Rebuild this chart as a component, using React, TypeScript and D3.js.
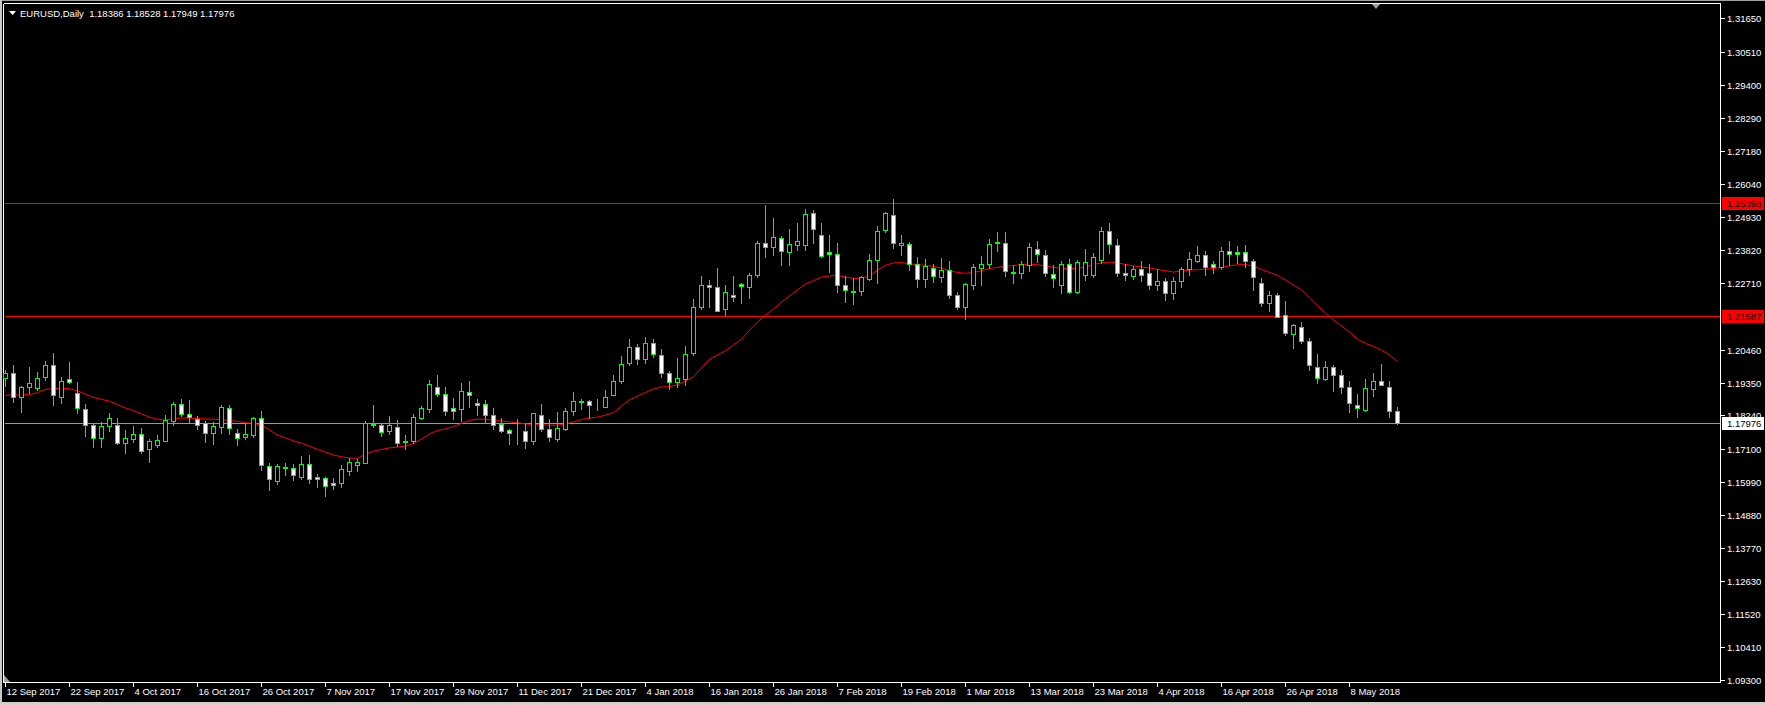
import React from 'react';
import * as d3 from 'd3';

const W = 1765;
const H = 705;

const opens = [
  1.1949, 1.1966, 1.1885, 1.1919, 1.1918, 1.1953, 1.1993, 1.1887, 1.1946, 1.1899,
  1.1845, 1.1792, 1.1747, 1.1788, 1.1792, 1.1732, 1.1743, 1.1761, 1.1709, 1.1725,
  1.1738, 1.1806, 1.1862, 1.1828, 1.1811, 1.1797, 1.1766, 1.1786, 1.1849, 1.1763,
  1.1750, 1.1757, 1.1815, 1.1653, 1.1603, 1.1647, 1.1645, 1.1617, 1.1660, 1.1615,
  1.1611, 1.1597, 1.1594, 1.1637, 1.1655, 1.1664, 1.1795, 1.1792, 1.1770, 1.1784,
  1.1736, 1.1738, 1.1816, 1.1847, 1.1921, 1.1895, 1.1849, 1.1847, 1.1903, 1.1865,
  1.1862, 1.1824, 1.1795, 1.1775, 1.1766, 1.1770, 1.1738, 1.1824, 1.1777, 1.1743,
  1.1779, 1.1838, 1.1868, 1.1871, 1.1857, 1.1853, 1.1894, 1.1941, 1.2002, 1.2054,
  1.2014, 1.2067, 1.2027, 1.1966, 1.1936, 1.1946, 1.2034, 1.2191, 1.2263, 1.2257,
  1.2182, 1.2232, 1.2267, 1.2259, 1.2297, 1.2405, 1.2392, 1.2422, 1.2377, 1.2401,
  1.2400, 1.2507, 1.2432, 1.2375, 1.2369, 1.2263, 1.2244, 1.2245, 1.2286, 1.2349,
  1.2451, 1.2501, 1.2398, 1.2402, 1.2334, 1.2284, 1.2321, 1.2290, 1.2315, 1.2230,
  1.2191, 1.2265, 1.2321, 1.2334, 1.2407, 1.2408, 1.2307, 1.2306, 1.2332, 1.2387,
  1.2365, 1.2303, 1.2263, 1.2334, 1.2240, 1.2299, 1.2299, 1.2348, 1.2446, 1.2399,
  1.2304, 1.2295, 1.2318, 1.2304, 1.2265, 1.2277, 1.2236, 1.2279, 1.2318, 1.2347,
  1.2365, 1.2334, 1.2324, 1.2378, 1.2376, 1.2375, 1.2345, 1.2270, 1.2205, 1.2230,
  1.2162, 1.2100, 1.2122, 1.2074, 1.1989, 1.1947, 1.1986, 1.1959, 1.1921, 1.1860,
  1.1842, 1.1912, 1.1939, 1.1921, 1.18386,
];

const highs = [
  1.1977, 1.1994, 1.1923, 1.1986, 1.1971, 1.2009, 1.2034, 1.1953, 1.2004, 1.1936,
  1.1862, 1.1797, 1.1803, 1.1831, 1.1815, 1.1775, 1.1788, 1.1781, 1.1743, 1.1757,
  1.1824, 1.1869, 1.1879, 1.1876, 1.1822, 1.1806, 1.1803, 1.1859, 1.1859, 1.1777,
  1.1795, 1.1820, 1.1839, 1.1662, 1.1660, 1.1664, 1.1660, 1.1687, 1.1691, 1.1626,
  1.1617, 1.1611, 1.1656, 1.1679, 1.1678, 1.1804, 1.1859, 1.1799, 1.1822, 1.1808,
  1.1758, 1.1829, 1.1856, 1.1944, 1.1960, 1.1919, 1.1883, 1.1932, 1.1939, 1.1880,
  1.1876, 1.1849, 1.1815, 1.1779, 1.1812, 1.1795, 1.1833, 1.1862, 1.1812, 1.1835,
  1.1849, 1.1903, 1.1878, 1.1876, 1.1878, 1.1910, 1.1960, 1.2025, 1.2082, 1.2065,
  1.2088, 1.2081, 1.2049, 1.1975, 1.2017, 1.2059, 1.2216, 1.2295, 1.2281, 1.2322,
  1.2263, 1.2295, 1.2270, 1.2304, 1.2413, 1.2535, 1.2491, 1.2430, 1.2453, 1.2475,
  1.2521, 1.2518, 1.2475, 1.2433, 1.2407, 1.2295, 1.2287, 1.2295, 1.2369, 1.2464,
  1.2512, 1.2555, 1.2433, 1.2411, 1.2358, 1.2351, 1.2335, 1.2355, 1.2346, 1.2241,
  1.2272, 1.2335, 1.2362, 1.2419, 1.2444, 1.2444, 1.2331, 1.2347, 1.2405, 1.2413,
  1.2383, 1.2333, 1.2346, 1.2351, 1.2349, 1.2385, 1.2371, 1.2459, 1.2475, 1.2419,
  1.2334, 1.2329, 1.2347, 1.2335, 1.2318, 1.2288, 1.2290, 1.2326, 1.2376, 1.2396,
  1.2378, 1.2345, 1.2392, 1.2412, 1.2396, 1.2400, 1.2351, 1.2287, 1.2243, 1.2236,
  1.2211, 1.2133, 1.2139, 1.2085, 1.2031, 1.2007, 1.1994, 1.1976, 1.1939, 1.1896,
  1.1946, 1.1966, 1.1998, 1.1939, 1.18528,
];

const lows = [
  1.1923, 1.1870, 1.1836, 1.1901, 1.1910, 1.1944, 1.1859, 1.1865, 1.1933, 1.1831,
  1.1754, 1.1716, 1.1718, 1.1772, 1.1727, 1.1696, 1.1735, 1.1698, 1.1668, 1.1718,
  1.1738, 1.1792, 1.1822, 1.1803, 1.1779, 1.1734, 1.1727, 1.1766, 1.1761, 1.1724,
  1.1743, 1.1752, 1.1639, 1.1572, 1.1592, 1.1622, 1.1606, 1.1610, 1.1597, 1.1581,
  1.1553, 1.1574, 1.1583, 1.1622, 1.1637, 1.1662, 1.1784, 1.1754, 1.1761, 1.1720,
  1.1711, 1.1732, 1.1813, 1.1836, 1.1889, 1.1825, 1.1813, 1.1806, 1.1851, 1.1826,
  1.1799, 1.1779, 1.1769, 1.1727, 1.1727, 1.1714, 1.1727, 1.1770, 1.1736, 1.1736,
  1.1775, 1.1826, 1.1847, 1.1815, 1.1842, 1.1853, 1.1892, 1.1934, 1.1993, 1.1998,
  1.2002, 1.2020, 1.1955, 1.1914, 1.1921, 1.1928, 1.2027, 1.2184, 1.2191, 1.2176,
  1.2164, 1.2211, 1.2205, 1.2220, 1.2290, 1.2360, 1.2366, 1.2333, 1.2332, 1.2383,
  1.2383, 1.2407, 1.2358, 1.2308, 1.2241, 1.2207, 1.2200, 1.2232, 1.2281, 1.2272,
  1.2445, 1.2390, 1.2366, 1.2315, 1.2257, 1.2257, 1.2276, 1.2276, 1.2220, 1.2184,
  1.2151, 1.2250, 1.2264, 1.2321, 1.2380, 1.2295, 1.2270, 1.2288, 1.2313, 1.2342,
  1.2295, 1.2259, 1.2236, 1.2236, 1.2236, 1.2281, 1.2293, 1.2338, 1.2371, 1.2295,
  1.2281, 1.2286, 1.2279, 1.2250, 1.2248, 1.2214, 1.2218, 1.2259, 1.2299, 1.2342,
  1.2297, 1.2304, 1.2318, 1.2331, 1.2338, 1.2326, 1.2248, 1.2194, 1.2178, 1.2157,
  1.2095, 1.2052, 1.2067, 1.1977, 1.1934, 1.1944, 1.1907, 1.1899, 1.1836, 1.1820,
  1.1840, 1.1889, 1.1925, 1.1820, 1.17949,
];

const closes = [
  1.1966, 1.1885, 1.1919, 1.1932, 1.1949, 1.1993, 1.1892, 1.1939, 1.1938, 1.1848,
  1.1791, 1.1747, 1.1788, 1.1815, 1.1732, 1.1747, 1.1761, 1.1705, 1.1737, 1.1741,
  1.1808, 1.1862, 1.1828, 1.1820, 1.1793, 1.1766, 1.1788, 1.1851, 1.1780, 1.1749,
  1.1761, 1.1815, 1.1655, 1.1608, 1.1653, 1.1649, 1.1622, 1.1660, 1.1610, 1.1608,
  1.1585, 1.1588, 1.1642, 1.1666, 1.1666, 1.1797, 1.1792, 1.1767, 1.1792, 1.1732,
  1.1734, 1.1820, 1.1849, 1.1929, 1.1895, 1.1840, 1.1840, 1.1905, 1.1894, 1.1860,
  1.1826, 1.1793, 1.1772, 1.1766, 1.1764, 1.1738, 1.1831, 1.1777, 1.1752, 1.1781,
  1.1838, 1.1871, 1.1872, 1.1858, 1.1856, 1.1887, 1.1940, 1.1997, 1.2056, 1.2014,
  1.2067, 1.2030, 1.1966, 1.1936, 1.1950, 1.2030, 1.2189, 1.2263, 1.2257, 1.2176,
  1.2240, 1.2223, 1.2260, 1.2297, 1.2405, 1.2392, 1.2426, 1.2380, 1.2402, 1.2412,
  1.2503, 1.2453, 1.2362, 1.2368, 1.2265, 1.2248, 1.2242, 1.2290, 1.2349, 1.2446,
  1.2507, 1.2407, 1.2405, 1.2334, 1.2284, 1.2329, 1.2295, 1.2315, 1.2230, 1.2191,
  1.2267, 1.2324, 1.2334, 1.2403, 1.2409, 1.2311, 1.2304, 1.2335, 1.2392, 1.2369,
  1.2304, 1.2288, 1.2334, 1.2240, 1.2341, 1.2341, 1.2358, 1.2446, 1.2402, 1.2304,
  1.2299, 1.2318, 1.2299, 1.2265, 1.2277, 1.2239, 1.2277, 1.2318, 1.2351, 1.2365,
  1.2324, 1.2324, 1.2378, 1.2369, 1.2369, 1.2345, 1.2290, 1.2205, 1.2230, 1.2157,
  1.2101, 1.2128, 1.2076, 1.1993, 1.1949, 1.1986, 1.1961, 1.1921, 1.1865, 1.1850,
  1.1915, 1.1939, 1.1925, 1.1838, 1.17976,
];

const movingAverage = [
  1.1892, 1.1893, 1.1893, 1.1894, 1.1901, 1.1912, 1.1914, 1.1916, 1.1914, 1.1907,
  1.1896, 1.1885, 1.1878, 1.1872, 1.1860, 1.1849, 1.1840, 1.1829, 1.1818, 1.1811,
  1.1808, 1.1813, 1.1815, 1.1815, 1.1813, 1.1812, 1.1811, 1.1810, 1.1807, 1.1804,
  1.1799, 1.1797, 1.1791, 1.1775, 1.1757, 1.1748, 1.1738, 1.1730, 1.1720, 1.1709,
  1.1700, 1.1690, 1.1684, 1.1680, 1.1679, 1.1693, 1.1703, 1.1709, 1.1714, 1.1717,
  1.1720, 1.1729, 1.1744, 1.1761, 1.1773, 1.1778, 1.1786, 1.1797, 1.1807, 1.1811,
  1.1811, 1.1807, 1.1805, 1.1802, 1.1799, 1.1795, 1.1793, 1.1792, 1.1791, 1.1791,
  1.1795, 1.1802, 1.1810, 1.1815, 1.1818, 1.1825, 1.1833, 1.1856, 1.1876, 1.1889,
  1.1901, 1.1913, 1.1920, 1.1921, 1.1927, 1.1940, 1.1954, 1.1984, 1.2014, 1.2028,
  1.2042, 1.2062, 1.2081, 1.2112, 1.2139, 1.2163, 1.2183, 1.2207, 1.2227, 1.2248,
  1.2268, 1.2279, 1.2291, 1.2295, 1.2297, 1.2291, 1.2287, 1.2287, 1.2295, 1.2315,
  1.2331, 1.2339, 1.2340, 1.2336, 1.2333, 1.2331, 1.2327, 1.2322, 1.2312, 1.2307,
  1.2304, 1.2307, 1.2312, 1.2320, 1.2324, 1.2328, 1.2330, 1.2334, 1.2334, 1.2333,
  1.2329, 1.2324, 1.2321, 1.2320, 1.2321, 1.2325, 1.2334, 1.2339, 1.2342, 1.2339,
  1.2334, 1.2329, 1.2325, 1.2322, 1.2317, 1.2313, 1.2308, 1.2312, 1.2315, 1.2316,
  1.2318, 1.2320, 1.2324, 1.2329, 1.2333, 1.2333, 1.2329, 1.2317, 1.2307, 1.2297,
  1.2281, 1.2264, 1.2248, 1.2220, 1.2194, 1.2170, 1.2146, 1.2126, 1.2106, 1.2081,
  1.2067, 1.2057, 1.2045, 1.2028, 1.2005,
];

const dateLabels = [
  '12 Sep 2017', '22 Sep 2017', '4 Oct 2017', '16 Oct 2017', '26 Oct 2017',
  '7 Nov 2017', '17 Nov 2017', '29 Nov 2017', '11 Dec 2017', '21 Dec 2017',
  '4 Jan 2018', '16 Jan 2018', '26 Jan 2018', '7 Feb 2018', '19 Feb 2018',
  '1 Mar 2018', '13 Mar 2018', '23 Mar 2018', '4 Apr 2018', '16 Apr 2018',
  '26 Apr 2018', '8 May 2018',
];
const dateLabelEvery = 8;

const priceTicks = [
  '1.31650', '1.30510', '1.29400', '1.28290', '1.27180', '1.26040', '1.24930',
  '1.23820', '1.22710', '1.20460', '1.19350', '1.18240', '1.17100', '1.15990',
  '1.14880', '1.13770', '1.12630', '1.11520', '1.10410', '1.09300',
];

const levelLines = [1.25398, 1.21587];
const bidPrice = 1.17976;
const headerSymbol = 'EURUSD,Daily';
const headerValues = ['1.18386', '1.18528', '1.17949', '1.17976'];

const FONT = '"Liberation Sans", Arial, sans-serif';
const FS = 9.5;
const GREEN = '#00ff00';

export default function App() {
  const plotLeft = 3.5;
  const plotRight = 1720.5;
  const plotTop = 3.5;
  const plotBottom = 682.5;

  const x = d3.scaleLinear().domain([0, opens.length - 1]).range([5.5, 5.5 + 8 * (opens.length - 1)]);
  const y = d3.scaleLinear().domain([1.09232, 1.32138]).range([682, 4]);
  const py = (p: number) => Math.round(y(p)) + 0.5;

  const maLine = d3
    .line<number>()
    .x((_, i) => x(i))
    .y((d) => y(d));

  const candles = opens.map((o, i) => {
    const c = closes[i];
    const hi = highs[i];
    const lo = lows[i];
    const cx = x(i);
    const bull = c >= o;
    const top = py(Math.max(o, c));
    const bot = py(Math.min(o, c));
    return (
      <g key={i}>
        <line x1={cx} x2={cx} y1={py(hi) - 0.5} y2={py(lo) + 0.5} stroke={GREEN} strokeWidth={1} />
        <rect
          x={cx - 2}
          y={top}
          width={4}
          height={Math.max(0, bot - top)}
          fill={bull ? '#000000' : '#ffffff'}
          stroke={GREEN}
          strokeWidth={1}
        />
      </g>
    );
  });

  return (
    <svg
      width={W}
      height={H}
      style={{ position: 'absolute', left: 0, top: 0, display: 'block' }}
      shapeRendering="crispEdges"
    >
      <rect x={0} y={0} width={W} height={H} fill="#000000" />
      {/* window edges */}
      <rect x={0} y={0} width={W} height={1} fill="#a0a0a0" />
      <rect x={0} y={0} width={2} height={H} fill="#c8c8c8" />
      <rect x={0} y={702} width={W} height={3} fill="#d4d0c8" />

      {/* chart frame */}
      <line x1={plotLeft} x2={plotRight} y1={plotTop} y2={plotTop} stroke="#ffffff" />
      <line x1={plotLeft} x2={plotLeft} y1={plotTop} y2={plotBottom} stroke="#ffffff" />
      <line x1={plotRight} x2={plotRight} y1={plotTop} y2={plotBottom} stroke="#ffffff" />
      <line x1={plotLeft} x2={plotRight} y1={plotBottom} y2={plotBottom} stroke="#ffffff" />

      {/* horizontal levels */}
      {levelLines.map((p) => (
        <line key={p} x1={plotLeft + 1} x2={plotRight - 1} y1={py(p)} y2={py(p)} stroke="#ff0000" />
      ))}
      <line x1={plotLeft + 1} x2={plotRight - 1} y1={py(bidPrice)} y2={py(bidPrice)} stroke="#8e9aa6" />

      {/* moving average */}
      <path d={maLine(movingAverage) || ''} fill="none" stroke="#ff0000" strokeWidth={1} shapeRendering="auto" />

      {candles}

      {/* price axis */}
      {priceTicks.map((t) => {
        const ty = py(parseFloat(t));
        return (
          <g key={t}>
            <line x1={plotRight} x2={plotRight + 4} y1={ty} y2={ty} stroke="#ffffff" />
            <text x={1727} y={ty} dy="0.35em" fill="#ffffff" fontFamily={FONT} fontSize={FS}>
              {t}
            </text>
          </g>
        );
      })}
      {levelLines.map((p) => (
        <g key={'l' + p}>
          <rect x={plotRight + 1} y={py(p) - 6.5} width={42} height={13} fill="#ff0000" />
          <text x={1727} y={py(p)} dy="0.35em" fill="#000000" fontFamily={FONT} fontSize={FS}>
            {p.toFixed(5)}
          </text>
        </g>
      ))}
      <rect x={plotRight + 1} y={py(bidPrice) - 6.5} width={42} height={13} fill="#ffffff" />
      <text x={1727} y={py(bidPrice)} dy="0.35em" fill="#000000" fontFamily={FONT} fontSize={FS}>
        {bidPrice.toFixed(5)}
      </text>

      {/* time axis */}
      {dateLabels.map((d, k) => {
        const tx = x(k * dateLabelEvery);
        return (
          <g key={d}>
            <line x1={tx} x2={tx} y1={plotBottom} y2={plotBottom + 4} stroke="#ffffff" />
            <text x={tx + 1} y={695} fill="#ffffff" fontFamily={FONT} fontSize={FS}>
              {d}
            </text>
          </g>
        );
      })}

      {/* markers */}
      <polygon points="1372,4 1380,4 1376,9" fill="#a0a0a0" shapeRendering="auto" />
      <polygon points="4,675 4,682 10,682" fill="#a0a0a0" shapeRendering="auto" />

      {/* header */}
      <polygon points="9,11 16,11 12.5,15" fill="#ffffff" shapeRendering="auto" />
      <text x={20} y={16.5} fill="#ffffff" fontFamily={FONT} fontSize={FS}>
        {headerSymbol + '\u00a0\u00a0' + headerValues.join(' ')}
      </text>
    </svg>
  );
}
